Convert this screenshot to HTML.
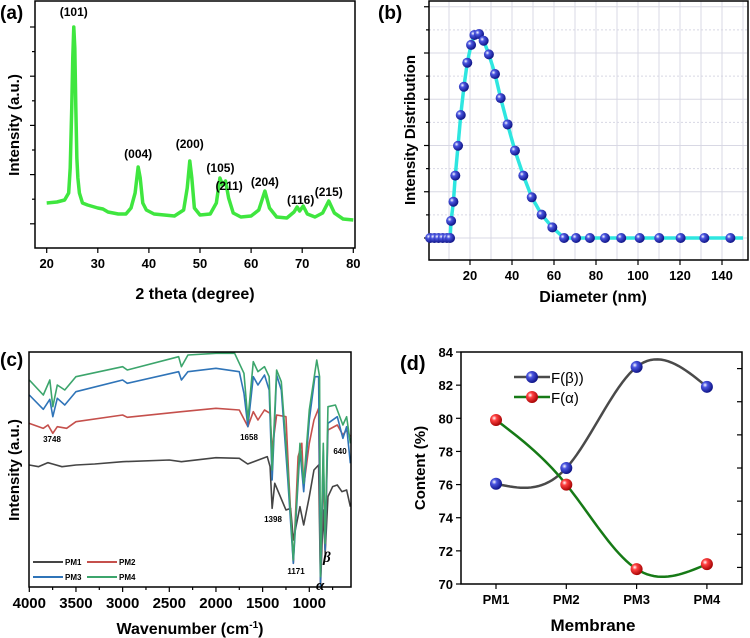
<!DOCTYPE html>
<html><head><meta charset="utf-8"><style>
html,body{margin:0;padding:0;background:#fff}
svg{display:block;font-family:"Liberation Sans",sans-serif;font-weight:bold}
</style></head><body>
<svg id="fig" width="750" height="638" viewBox="0 0 750 638" xmlns="http://www.w3.org/2000/svg">
<defs>
<radialGradient id="gBlue" cx="0.35" cy="0.35" r="0.7"><stop offset="0" stop-color="#ffffff"/><stop offset="0.3" stop-color="#4a55e0"/><stop offset="1" stop-color="#0a0f80"/></radialGradient>
<radialGradient id="gRed" cx="0.35" cy="0.35" r="0.7"><stop offset="0" stop-color="#ffffff"/><stop offset="0.3" stop-color="#ff4040"/><stop offset="1" stop-color="#a00000"/></radialGradient>
</defs>
<g id="pa"></g>
<text x="0" y="19" font-size="19">(a)</text>
<text transform="translate(19,125) rotate(-90)" text-anchor="middle" font-size="15">Intensity (a.u.)</text>
<text x="195" y="299" text-anchor="middle" font-size="16">2 theta (degree)</text>
<g id="pb"></g>
<text x="378" y="19" font-size="19">(b)</text>
<text transform="translate(415,130) rotate(-90)" text-anchor="middle" font-size="15">Intensity Distribution</text>
<text x="593" y="302" text-anchor="middle" font-size="16">Diameter (nm)</text>
<g id="pc"></g>
<text x="0" y="366" font-size="19">(c)</text>
<text transform="translate(19,470) rotate(-90)" text-anchor="middle" font-size="15">Intensity (a.u.)</text>
<text x="190" y="634" text-anchor="middle" font-size="16">Wavenumber (cm<tspan font-size="10" dy="-6">-1</tspan><tspan dy="6">)</tspan></text>
<g id="pd"></g>
<text x="400" y="370" font-size="20">(d)</text>
<text transform="translate(425,468) rotate(-90)" text-anchor="middle" font-size="15">Content (%)</text>
<text x="593" y="631" text-anchor="middle" font-size="17">Membrane</text>
</svg>
<script>
const xrdTheta = [20,22,23.5,24.3,24.6,24.9,25.1,25.3,25.5,25.7,25.9,26.1,26.4,27,28,30,31,32,34,35.5,36.5,37.3,37.9,38.3,38.8,39.5,41,45,46.8,47.5,48,48.4,48.9,50,52,53.2,53.9,54.4,55,55.6,56.5,58,60,61.5,62.7,63.6,65,67,68.4,69,69.5,70.2,71,72.5,74,75.2,76.3,78,80];
const xrdIntensity = [45,46,48,55,80,140,190,221,200,140,90,70,55,45,43,40,39,36,34,34,40,55,81,70,45,38,34,32,38,60,87,70,40,33,34,45,70,63,67,50,35,31,32,38,57,40,31,30,36,41,37,42,34,31,35,47,35,29,28];
const xrdTicks = [20,30,40,50,60,70,80];
const peakLabels = ["(101)","(004)","(200)","(105)","(211)","(204)","(116)","(215)"];
const peakTheta = [25.3,37.9,48,54,55.7,62.7,69.7,75.2];
const peakIntensity = [232,90,100,76,58,62,44,52];

const dlsDiameter = [1,3,5,7,9,10.5,11.0,12.1,13.0,14.3,15.6,17.1,18.7,20.5,22.1,24.3,26.5,29.0,31.9,34.6,37.9,41.4,45.4,49.4,54.1,59.2,64.8,70.5,77.1,84.3,92.0,100.8,110.1,120.3,131.6,144.0];
const dlsIntensity = [0,0,0,0,0,0,0.74,1.57,2.70,3.99,5.32,6.54,7.58,8.35,8.78,8.82,8.53,7.94,7.09,6.05,4.91,3.78,2.70,1.76,1.01,0.46,0,0,0,0,0,0,0,0,0,0];
const dlsTicks = [20,40,60,80,100,120,140];

const wnPM1 = [4000,3900,3800,3750,3650,3500,3300,3000,2500,2370,2000,1750,1660,1500,1450,1420,1398,1370,1250,1200,1171,1100,1060,1000,950,900,880,850,830,800,750,700,650,600,560];
const tPM1 = [43.5,43,44.2,43.8,43,43.5,43.8,44.5,45,44.5,45.7,45.5,43.8,45.5,46,43,30.5,38,30,30.5,21,31,25.5,34,42,43.5,7,30,17,34,37,37.5,35.5,36,31];
const wnPM2 = [4000,3850,3800,3748,3700,3600,3500,3000,2950,2370,2000,1750,1658,1600,1550,1480,1420,1398,1350,1250,1220,1171,1120,1080,1060,1000,950,900,880,850,830,800,700,640,600,560];
const tPM2 = [56,54.5,55.5,53,55,54.5,56.5,58.5,57.8,59.5,60.5,60,55,59.5,57,60,59,48,58.5,58,40,14,46,50,37,50,57,60.5,8,43,18,54,55.5,52.5,54,52];
const wnPM3 = [4000,3850,3780,3748,3700,3620,3500,3000,2950,2400,2370,2300,2000,1750,1700,1658,1600,1550,1480,1430,1398,1350,1300,1230,1171,1100,1060,1000,940,900,880,850,830,800,700,640,600,560];
const tPM3 = [64.5,60.2,63.2,58,63.5,61.5,65.5,69,68,71.5,69,71.5,72.5,71.5,65,55,70,67.5,70.5,66,39,70.5,66,39,14,48,35.5,57,70,70,7,48,18,56,58,51.5,55,44];
const wnPM4 = [4000,3850,3780,3748,3700,3620,3500,3000,2950,2400,2370,2300,2000,1800,1700,1658,1600,1550,1480,1430,1398,1350,1300,1230,1171,1100,1060,1000,920,890,880,850,830,800,720,640,600,560];
const tPM4 = [69,64.5,69,61,67.5,66,70,73,72,76,73,76.5,77,77,71,57,74.5,71.5,73,70,42,72,68.5,42,15,50,38,60,75,70,10,50,20,61,61.5,55.5,58,50];
const ftirTicks = [4000,3500,3000,2500,2000,1500,1000];
const ftirNames = ["PM1","PM2","PM3","PM4"];
const ftirColors = ["#454545","#c5504c","#2f74b8","#3ca56c"];

const membranes = ["PM1","PM2","PM3","PM4"];
const fBeta = [76.05,77.0,83.1,81.9];
const fAlpha = [79.9,76.0,70.9,71.2];
const contentTicks = [70,72,74,76,78,80,82,84];

const NS="http://www.w3.org/2000/svg";
function mk(parent,tag,attrs,txt){const e=document.createElementNS(NS,tag);for(const k in attrs)e.setAttribute(k,attrs[k]);if(txt!==undefined)e.textContent=txt;parent.appendChild(e);return e;}
function pathD(xs,ys,fx,fy){return xs.map((x,i)=>(i?"L":"M")+fx(x).toFixed(2)+","+fy(ys[i]).toFixed(2)).join("");}

// panel a
const pa=document.getElementById("pa");
const xa=t=>46.7+(t-20)*5.11, ya=v=>248-v;
let f=mk(pa,"rect",{x:35,y:1,width:320,height:247,fill:"none",stroke:"#000","stroke-width":1.5});


for(let k=0;k<10;k++){const yy=27+k*24.6;if(yy>246)break;const t=mk(pa,"line",{x1:35,x2:k%2?32:30,y1:yy,y2:yy,stroke:"#000","stroke-width":1.2});

}
xrdTicks.forEach(v=>{const t=mk(pa,"line",{x1:xa(v),x2:xa(v),y1:248,y2:253,stroke:"#000","stroke-width":1.2});


const l=mk(pa,"text",{x:xa(v),y:268,"text-anchor":"middle","font-size":13},v);

});
let cur=mk(pa,"path",{d:pathD(xrdTheta,xrdIntensity,xa,ya),fill:"none",stroke:"#3fe63f","stroke-width":3.5,"stroke-linejoin":"round"});


peakLabels.forEach((s,i)=>{const l=mk(pa,"text",{x:xa(peakTheta[i]),y:ya(peakIntensity[i]),"text-anchor":"middle","font-size":12},s);

});

// panel b
const pb=document.getElementById("pb");
const xb=d=>428+d*2.1, yb=u=>238-u*23.125;
for(let d=10;d<=150;d+=10){const g=mk(pb,"line",{x1:xb(d),x2:xb(d),y1:1,y2:260,stroke:"#d8d8e4","stroke-width":1});

}
for(let u=0;u<=10;u+=1){const g=mk(pb,"line",{x1:429,x2:747,y1:yb(u),y2:yb(u),stroke:"#d8d8e4","stroke-width":1,"stroke-dasharray":(u%2)?"2,2":"none"});

}
f=mk(pb,"rect",{x:429,y:1,width:319,height:259,fill:"none",stroke:"#000","stroke-width":1.5});


for(let u=0;u<=10;u++){const t=mk(pb,"line",{x1:429,x2:u%2?426:424,y1:yb(u),y2:yb(u),stroke:"#000","stroke-width":1.2});

}
dlsTicks.forEach(v=>{const t=mk(pb,"line",{x1:xb(v),x2:xb(v),y1:260,y2:265,stroke:"#000","stroke-width":1.2});


const l=mk(pb,"text",{x:xb(v),y:280,"text-anchor":"middle","font-size":13},v);

});
const dx=dlsDiameter.concat([150]), dy=dlsIntensity.concat([0]);
cur=mk(pb,"path",{d:pathD(dx,dy,xb,yb),fill:"none",stroke:"#2ee6e0","stroke-width":3.5,"stroke-linejoin":"round"});


dlsDiameter.forEach((d,i)=>{const c=mk(pb,"circle",{cx:xb(d),cy:yb(dlsIntensity[i]),r:5,fill:"url(#gBlue)"});

});

// panel c
const pc=document.getElementById("pc");
const xc=w=>29.3+(4000-w)*0.09333, yc=v=>310+(900-10*v)/3;
const wns=[wnPM1,wnPM2,wnPM3,wnPM4], ts=[tPM1,tPM2,tPM3,tPM4];
ts.forEach((t,i)=>{const p=mk(pc,"path",{d:pathD(wns[i],t,xc,yc),fill:"none",stroke:ftirColors[i],"stroke-width":1.6,"stroke-linejoin":"round"});

});
f=mk(pc,"rect",{x:29,y:352,width:322,height:235,fill:"none",stroke:"#000","stroke-width":1.5});


for(let w=4000;w>=750;w-=250){const t=mk(pc,"line",{x1:xc(w),x2:xc(w),y1:587,y2:w%500?590:592,stroke:"#000","stroke-width":1.2});

}
ftirTicks.forEach(v=>{const l=mk(pc,"text",{x:xc(v),y:608,"text-anchor":"middle","font-size":15},v);

});
[["3748",52,442],["1658",249,440],["1398",273,522],["1171",296,574],["640",340,454]].forEach(a=>{const l=mk(pc,"text",{x:a[1],y:a[2],"text-anchor":"middle","font-size":8},a[0]);

});
let g1=mk(pc,"text",{x:323,y:562,"font-size":15,"font-style":"italic","font-family":"Liberation Serif,serif"},"β");


g1=mk(pc,"text",{x:316,y:590,"font-size":15,"font-style":"italic","font-family":"Liberation Serif,serif"},"α");


ftirNames.forEach((n,i)=>{const lx=33+(i%2)*54, ly=562+Math.floor(i/2)*15;
const ln=mk(pc,"line",{x1:lx,x2:lx+30,y1:ly,y2:ly,stroke:ftirColors[i],"stroke-width":2});


const tx=mk(pc,"text",{x:lx+32,y:ly+3,"font-size":8},n);

});

// panel d
const pd=document.getElementById("pd");
const xd=i=>496+i*70.3, yd=v=>584-(v-70)*16.57;
function spline(ys){const n=ys.length,m=new Array(n).fill(0);
const a=[],b=[],c=[],r=[];for(let i=1;i<n-1;i++){a.push(1);b.push(4);c.push(1);r.push(6*(ys[i+1]-2*ys[i]+ys[i-1]));}
for(let i=1;i<r.length;i++){const w=a[i]/b[i-1];b[i]-=w*c[i-1];r[i]-=w*r[i-1];}
const s=new Array(r.length);for(let i=r.length-1;i>=0;i--)s[i]=(r[i]-(i<r.length-1?c[i]*s[i+1]:0))/b[i];
for(let i=0;i<s.length;i++)m[i+1]=s[i];
let d="";for(let i=0;i<n-1;i++){for(let k=0;k<=20;k++){const t=k/20;
const v=(1-t)*ys[i]+t*ys[i+1]+((Math.pow(1-t,3)-(1-t))*m[i]+(Math.pow(t,3)-t)*m[i+1])/6;
d+=(d?"L":"M")+xd(i+t).toFixed(2)+","+yd(v).toFixed(2);}}return d;}
f=mk(pd,"rect",{x:461,y:352,width:281,height:232,fill:"none",stroke:"#000","stroke-width":1.5});


contentTicks.forEach(v=>{const t=mk(pd,"line",{x1:456,x2:461,y1:yd(v),y2:yd(v),stroke:"#000","stroke-width":1.2});


if(v<84){const t2=mk(pd,"line",{x1:742,x2:737,y1:yd(v+1),y2:yd(v+1),stroke:"#000","stroke-width":1.2});

}
const l=mk(pd,"text",{x:453,y:yd(v)+5,"text-anchor":"end","font-size":13},v);

});
membranes.forEach((m,i)=>{const t=mk(pd,"line",{x1:xd(i),x2:xd(i),y1:584,y2:589,stroke:"#000","stroke-width":1.2});


const l=mk(pd,"text",{x:xd(i),y:604,"text-anchor":"middle","font-size":13},m);

});
const sB=mk(pd,"path",{d:spline(fBeta),fill:"none",stroke:"#4a4a4a","stroke-width":2.5});


const sA=mk(pd,"path",{d:spline(fAlpha),fill:"none",stroke:"#167a16","stroke-width":2.5});


fBeta.forEach((v,i)=>{const c=mk(pd,"circle",{cx:xd(i),cy:yd(v),r:6,fill:"url(#gBlue)"});

});
fAlpha.forEach((v,i)=>{const c=mk(pd,"circle",{cx:xd(i),cy:yd(v),r:6,fill:"url(#gRed)"});

});
[["F(β))","#4a4a4a","url(#gBlue)",377],["F(α)","#167a16","url(#gRed)",397]].forEach(e=>{
const ln=mk(pd,"line",{x1:514,x2:550,y1:e[3],y2:e[3],stroke:e[1],"stroke-width":2.5});


const c=mk(pd,"circle",{cx:532,cy:e[3],r:6,fill:e[2]});


const tx=mk(pd,"text",{x:551,y:e[3]+6,"font-size":15,"font-weight":"normal"},e[0]);

});
</script>
</body></html>
